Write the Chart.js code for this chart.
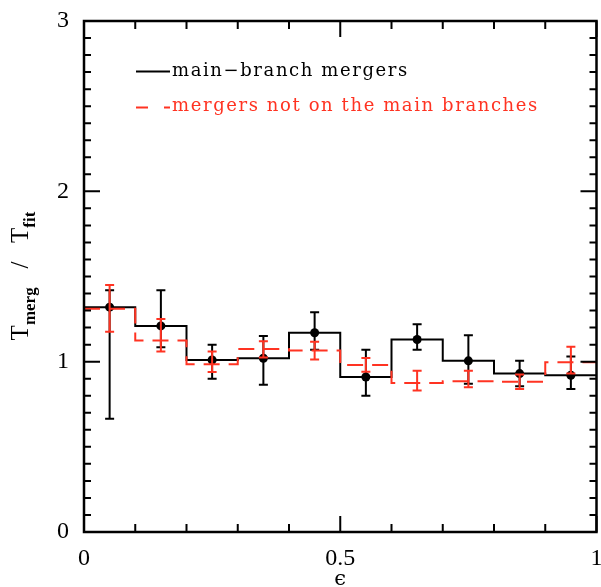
<!DOCTYPE html>
<html>
<head>
<meta charset="utf-8">
<script src="https://cdn.jsdelivr.net/npm/chart.js@4"></script>
<style>
  body { margin: 0; background: #fff; }
  #wrap { width: 601px; height: 587px; }
</style>
</head>
<body>
<div id="wrap"><canvas id="chart"></canvas></div>
<script>
// bins in epsilon
const binEdges = [0, 0.1, 0.2, 0.3, 0.4, 0.5, 0.6, 0.7, 0.8, 0.9, 1.0];
const binCenters = [0.05, 0.15, 0.25, 0.35, 0.45, 0.55, 0.65, 0.75, 0.85, 0.95];

// main-branch mergers (black)
const mainVals = [1.32, 1.21, 1.01, 1.02, 1.17, 0.91, 1.13, 1.005, 0.93, 0.92];
const mainHi   = [1.42, 1.42, 1.10, 1.15, 1.29, 1.07, 1.22, 1.155, 1.005, 1.03];
const mainLo   = [0.665, 1.085, 0.90, 0.865, 1.07, 0.80, 1.07, 0.87, 0.855, 0.84];

// mergers not on the main branches (red, dashed)
const otherVals = [1.31, 1.125, 0.985, 1.075, 1.065, 0.98, 0.875, 0.885, 0.882, 0.997];
const otherHi   = [1.45, 1.25, 1.06, 1.12, 1.117, 1.022, 0.947, 0.947, 0.925, 1.088];
const otherLo   = [1.176, 1.06, 0.94, 1.025, 1.013, 0.941, 0.83, 0.85, 0.84, 0.93];

const seriesNames = ['main\u2212branch mergers', 'mergers not on the main branches'];
const xTickLabels = [0, 0.5, 1];
const yTickLabels = [0, 1, 2, 3];

const RED = '#ff3322';

function stepPoints(vals) {
  const pts = vals.map((v, i) => ({ x: binEdges[i], y: v }));
  pts.push({ x: binEdges[binEdges.length - 1], y: vals[vals.length - 1] });
  return pts;
}

function drawErrors(chart, lo, hi, color) {
  const { ctx, scales: { x, y } } = chart;
  ctx.save();
  ctx.strokeStyle = color;
  ctx.lineWidth = 2;
  binCenters.forEach((c, i) => {
    const px = x.getPixelForValue(c);
    const top = y.getPixelForValue(hi[i]);
    const bot = y.getPixelForValue(lo[i]);
    ctx.beginPath();
    ctx.moveTo(px, top); ctx.lineTo(px, bot);
    ctx.moveTo(px - 4.5, top); ctx.lineTo(px + 4.5, top);
    ctx.moveTo(px - 4.5, bot); ctx.lineTo(px + 4.5, bot);
    ctx.stroke();
  });
  ctx.restore();
}

const errorBars = {
  id: 'errorBars',
  afterDatasetDraw(chart, args) {
    if (args.index === 2) drawErrors(chart, mainLo, mainHi, '#000');
    if (args.index === 0) drawErrors(chart, otherLo, otherHi, RED);
  }
};

const frame = {
  id: 'frame',
  afterDraw(chart) {
    const { ctx, chartArea: a, scales: { x, y } } = chart;
    ctx.save();
    ctx.strokeStyle = '#000';
    ctx.lineWidth = 2;
    // inward ticks on all four sides
    ctx.beginPath();
    for (let i = 0; i <= 10; i++) {
      const px = x.getPixelForValue(i / 10);
      const len = (i % 5 === 0) ? 16 : 8;
      ctx.moveTo(px, a.bottom); ctx.lineTo(px, a.bottom - len);
      ctx.moveTo(px, a.top); ctx.lineTo(px, a.top + len);
    }
    for (let i = 0; i <= 30; i++) {
      const py = y.getPixelForValue(i / 10);
      const len = (i % 10 === 0) ? 16 : 7;
      ctx.moveTo(a.left, py); ctx.lineTo(a.left + len, py);
      ctx.moveTo(a.right, py); ctx.lineTo(a.right - len, py);
    }
    ctx.stroke();
    ctx.lineWidth = 2.5;
    ctx.strokeRect(a.left, a.top, a.right - a.left, a.bottom - a.top);

    // legend
    ctx.lineWidth = 2;
    ctx.beginPath();
    ctx.moveTo(136, 71.5); ctx.lineTo(170, 71.5);
    ctx.stroke();
    ctx.strokeStyle = RED;
    ctx.setLineDash([12, 16]);
    ctx.beginPath();
    ctx.moveTo(136, 107.5); ctx.lineTo(170, 107.5);
    ctx.stroke();
    ctx.setLineDash([]);
    ctx.font = '18px "DejaVu Serif"';
    ctx.letterSpacing = '1.6px';
    ctx.textBaseline = 'alphabetic';
    ctx.fillStyle = '#000';
    ctx.fillText(seriesNames[0], 172, 76);
    ctx.fillStyle = RED;
    ctx.fillText(seriesNames[1], 172, 111);
    ctx.letterSpacing = '0px';

    // x title
    ctx.fillStyle = '#000';
    ctx.font = '21px "DejaVu Serif"';
    ctx.textAlign = 'center';
    ctx.fillText('\u03f5', (a.left + a.right) / 2, 585);

    // y title, rotated, with subscripts
    ctx.translate(28, 276);
    ctx.rotate(-Math.PI / 2);
    ctx.textAlign = 'left';
    const parts = [
      { t: 'T', f: '25px "Liberation Serif"', dy: 0 },
      { t: 'merg', f: 'bold 17px "Liberation Serif"', dy: 7 },
      { t: '   /   ', f: '25px "Liberation Serif"', dy: 0 },
      { t: 'T', f: '25px "Liberation Serif"', dy: 0 },
      { t: 'fit', f: 'bold 17px "Liberation Serif"', dy: 7 }
    ];
    let total = 0;
    parts.forEach(p => { ctx.font = p.f; p.w = ctx.measureText(p.t).width; total += p.w; });
    let cx = -total / 2;
    parts.forEach(p => {
      ctx.font = p.f;
      ctx.fillText(p.t, cx, p.dy);
      cx += p.w;
    });
    ctx.restore();
  }
};

new Chart(document.getElementById('chart'), {
  type: 'scatter',
  data: {
    datasets: [
      {
        label: seriesNames[1],
        data: stepPoints(otherVals),
        showLine: true,
        stepped: true,
        borderColor: RED,
        borderWidth: 2,
        borderDash: [16, 9],
        pointRadius: 0,
        order: 0
      },
      {
        label: 'points',
        data: binCenters.map((c, i) => ({ x: c, y: mainVals[i] })),
        showLine: false,
        pointRadius: 4.5,
        backgroundColor: '#000',
        borderWidth: 0,
        order: 1
      },
      {
        label: seriesNames[0],
        data: stepPoints(mainVals),
        showLine: true,
        stepped: true,
        borderColor: '#000',
        borderWidth: 2,
        pointRadius: 0,
        order: 2
      }
    ]
  },
  options: {
    responsive: true,
    maintainAspectRatio: false,
    animation: false,
    layout: { padding: { left: 0, right: 4, top: 21, bottom: 0 } },
    plugins: { legend: { display: false }, tooltip: { enabled: false }, title: { display: false } },
    scales: {
      x: {
        type: 'linear',
        min: 0, max: 1,
        grid: { display: false, drawTicks: false },
        border: { display: false },
        afterBuildTicks: s => { s.ticks = xTickLabels.map(v => ({ value: v })); },
        ticks: {
          padding: 12,
          color: '#000',
          font: { family: 'Liberation Serif', size: 24 },
          callback: v => String(v)
        },
        afterFit: s => { s.height = 55; s.paddingLeft = 0; s.paddingRight = 0; }
      },
      y: {
        type: 'linear',
        min: 0, max: 3,
        grid: { display: false, drawTicks: false },
        border: { display: false },
        afterBuildTicks: s => { s.ticks = yTickLabels.map(v => ({ value: v })); },
        ticks: {
          padding: 15,
          color: '#000',
          font: { family: 'Liberation Serif', size: 24 },
          callback: v => String(v)
        },
        afterFit: s => { s.width = 84; s.paddingTop = 0; s.paddingBottom = 0; }
      }
    }
  },
  plugins: [errorBars, frame]
});
</script>
</body>
</html>
